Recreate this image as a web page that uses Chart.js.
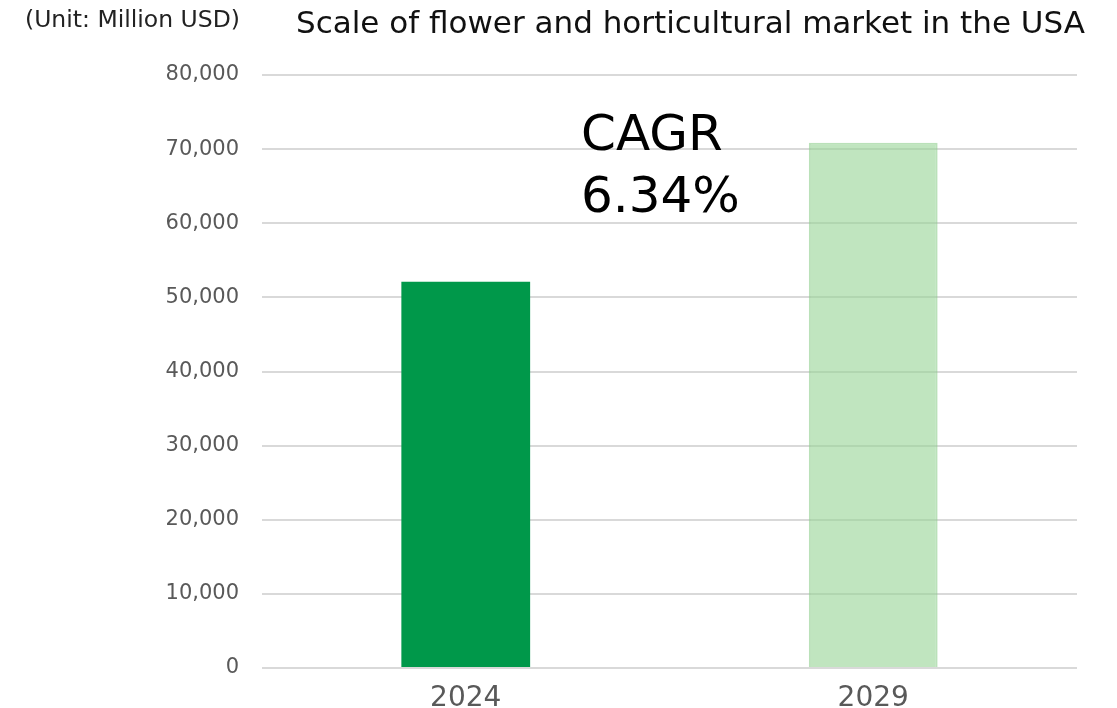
<!DOCTYPE html>
<html>
<head>
<meta charset="utf-8">
<script src="https://cdn.jsdelivr.net/npm/chart.js@4"></script>
<style>
  html, body { margin: 0; padding: 0; background: #fff; }
  #wrap { width: 1117px; height: 708px; position: relative; }
</style>
</head>
<body>
<div id="wrap"><canvas id="c"></canvas></div>
<script>
// Market size, million USD
const years = ['2024', '2029'];
const marketSize = [52100, 70850];
const barFill = ['#00984a', 'rgba(150, 212, 148, 0.6)'];
const barEdge = ['#00984a', 'rgba(140, 205, 138, 0.6)'];
const cagrLines = ['CAGR', '6.34%'];
const unitLabel = '(Unit: Million USD)';
const titleText = 'Scale of flower and horticultural market in the USA';

const FONT = '"DejaVu Sans", "Noto Sans", sans-serif';

// Heading, unit note and the CAGR callout
const overlay = {
  id: 'overlay',
  afterDraw(chart) {
    const ctx = chart.ctx;
    ctx.save();
    ctx.textBaseline = 'middle';

    ctx.fillStyle = '#111';
    ctx.font = '31px ' + FONT;
    ctx.textAlign = 'right';
    ctx.fillText(titleText, 1085, 25);

    ctx.fillStyle = '#222';
    ctx.font = '23.5px ' + FONT;
    ctx.textAlign = 'left';
    ctx.fillText(unitLabel, 25, 21);

    ctx.fillStyle = '#000';
    ctx.font = '50px ' + FONT;
    ctx.textBaseline = 'alphabetic';
    ctx.fillText(cagrLines[0], 581, 150);
    ctx.fillText(cagrLines[1], 581, 212);
    ctx.restore();
  }
};

new Chart(document.getElementById('c'), {
  type: 'bar',
  data: {
    labels: years,
    datasets: [{
      data: marketSize,
      backgroundColor: barFill,
      borderColor: barEdge,
      borderWidth: [0, 2],
      borderSkipped: 'bottom',
      barPercentage: 0.316,
      categoryPercentage: 1
    }]
  },
  options: {
    responsive: true,
    maintainAspectRatio: false,
    animation: false,
    layout: { padding: { top: 75, right: 40, bottom: 0, left: 0 } },
    plugins: {
      legend: { display: false },
      tooltip: { enabled: false }
    },
    scales: {
      x: {
        grid: { display: false },
        border: { display: false },
        ticks: { color: '#595959', font: { family: FONT, size: 28 }, padding: 6 },
        afterFit(s) { s.height = 40; }
      },
      y: {
        min: 0,
        max: 80000,
        grid: { color: '#d9d9d9', lineWidth: 2, drawTicks: false },
        border: { display: false },
        ticks: {
          stepSize: 10000,
          color: '#595959',
          padding: 23,
          font: { family: FONT, size: 21 },
          callback: v => v.toLocaleString('en-US')
        },
        afterFit(s) { s.width = 262; }
      }
    }
  },
  plugins: [overlay]
});
</script>
</body>
</html>
